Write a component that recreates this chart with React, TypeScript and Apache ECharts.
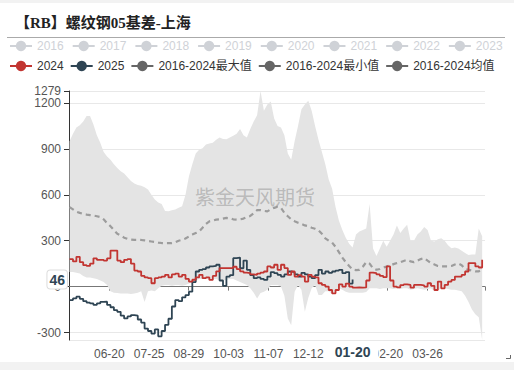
import React, { useEffect, useRef } from 'react';
import * as echarts from 'echarts';

// ---- categories: calendar days 05-16 .. 05-15 (leap year span) ----
const DAY_COUNT = 366;
const categories: string[] = [];
for (let i = 0; i < DAY_COUNT; i++) {
  const d = new Date(2023, 4, 16 + i);
  categories.push(String(d.getMonth() + 1).padStart(2, '0') + '-' + String(d.getDate()).padStart(2, '0'));
}

// values sampled every 3rd day (index = i * STEP)
const STEP = 3;

const hiddenYears = ['2016', '2017', '2018', '2019', '2020', '2021', '2022', '2023'];
const shownNames = ['2024', '2025', '2016-2024最大值', '2016-2024最小值', '2016-2024均值'];

const maxVals = [
  950, 1000, 1040, 1055, 1080, 1115, 1115, 1060, 990, 940,
  880, 850, 830, 800, 775, 755, 740, 715, 690, 675,
  665, 660, 650, 635, 600, 570, 550, 540, 495, 492,
  500, 505, 515, 525, 600, 720, 800, 870, 895, 905,
  930, 935, 940, 960, 975, 965, 964, 975, 986, 1000,
  1030, 990, 975, 1030, 1080, 1120, 1279, 1150, 1190, 1210,
  1100, 1050, 1040, 990, 870, 830, 950, 1050, 1160, 1190,
  1216, 1150, 1050, 960, 880, 800, 700, 640, 520, 430,
  370, 320, 280, 255, 340, 360, 370, 380, 540, 250,
  200, 250, 300, 260, 300, 340, 400, 350, 380, 405,
  300, 300, 340, 360, 390, 370, 300, 295, 310, 317,
  300, 270, 251, 255, 250, 235, 220, 207, 210, 210,
  380, 330,
];

const minVals = [
  95, 95, 90, 85, 70, 60, 60, 55, 50, 40,
  30, 10, -30, -40, -42, -45, -45, -45, -48, -45,
  -40, -30, -100, -30, -25, -30, -10, 5, 10, 10,
  5, 10, 10, 5, 10, 20, 30, 40, 50, 50,
  55, 45, 50, 50, 40, 40, 45, 50, 50, 40,
  30, 20, 10, -10, -40, -77, -42, -33, -20, 11,
  11, 11, 0, -60, -208, -252, -33, 11, -20, -165,
  -75, -10, 11, -55, -55, -30, -30, -50, -25, -10,
  -20, -33, -40, -40, -40, -40, -40, -35, -10, -10,
  -10, -15, -10, -10, -10, -15, -10, -15, -10, -10,
  -20, -15, -10, -15, -20, -15, -10, -30, -20, -15,
  -10, -15, -20, -20, -25, -30, -60, -100, -150, -180,
  -200, -349,
];

const meanVals = [
  520, 505, 490, 482, 475, 471, 468, 465, 460, 455,
  440, 415, 395, 370, 345, 335, 320, 312, 308, 306,
  306, 305, 302, 298, 295, 292, 288, 285, 284, 284,
  285, 290, 300, 306, 315, 328, 340, 350, 360, 385,
  410, 427, 432, 438, 440, 445, 449, 447, 440, 438,
  440, 445, 455, 462, 480, 500, 500, 495, 492, 505,
  515, 522, 515, 482, 460, 440, 428, 418, 410, 400,
  395, 385, 378, 368, 345, 315, 300, 288, 260, 225,
  190, 160, 135, 112, 108, 110, 130, 160, 150, 120,
  110, 115, 125, 132, 138, 147, 154, 160, 168, 175,
  165, 160, 170, 180, 187, 170, 154, 145, 135, 132,
  132, 132, 135, 145, 152, 140, 115, 110, 105, 100,
  100, 108,
];

const v2024 = [
  180, 165, 195, 160, 140, 135, 150, 185, 175, 175,
  170, 185, 236, 236, 170, 160, 175, 180, 150, 105,
  99, 70, 60, 55, 22, 55, 60, 66, 77, 60,
  80, 85, 66, 77, 50, 33, 45, 60, 77, 55,
  60, 44, 70, 100, 121, 121, 121, 121, 130, 115,
  100, 92, 88, 80, 77, 85, 92, 99, 132, 125,
  143, 110, 143, 121, 77, 99, 66, 75, 66, 33,
  77, 66, 60, 22, 11, 0, -22, -44, -22, 15,
  0, 20, 0, -7, -5, -7, -5, 40, 92, 88,
  80, 70, 62, 132, 40, 0, -5, 10, 15, 11,
  -7, 11, 11, 8, 0, 22, 5, -22, 33, -11,
  11, 33, 44, 66, 66, 77, 99, 154, 154, 132,
  125, 175,
];

const v2025 = [
  -88, -77, -66, -80, -95, -105, -110, -120, -110, -100,
  -99, -120, -135, -154, -165, -190, -208, -195, -186, -190,
  -215, -235, -274, -290, -307, -280, -325, -290, -250, -210,
  -130, -88, -95, -70, -55, -33, 30, 99, 110, 115,
  125, 132, 135, 143, 40, 5, 66, 75, 186, 190,
  120, 170, 110, 75, 55, 60, 50, 44, 66, 95,
  88, 77, 66, 80, 99, 95, 80, 66, 90, 80,
  66, 55, 75, 110, 85, 99, 90, 99, 105, 110,
  88, 95, 20, 46,
];

const pointerDay = '01-20';
const pointerValue = 46;

const FONT = "'Liberation Sans', 'Noto Sans CJK SC', sans-serif";

const pairs = (vals: number[]) => vals.map((v, i) => [i * STEP, v]);

export default function App() {
  const ref = useRef<HTMLDivElement>(null);

  useEffect(() => {
    document.body.style.margin = '0';
    document.body.style.background = '#f2f2f2';
    if (!ref.current) return;
    const chart = echarts.init(ref.current, null, { renderer: 'svg' });

    const labelInt = (i: number) => i > 0 && i % 35 === 0 && i <= 315;
    const lineBase = { type: 'line', showSymbol: false, symbol: 'circle', symbolSize: 6, xAxisIndex: 0, yAxisIndex: 0 };
    const bandDiff = maxVals.map((v, i) => [i * STEP, v - minVals[i]]);
    const gray = { itemStyle: { color: '#666' }, lineStyle: { color: '#666', opacity: 1, type: 'solid', width: 2 } };

    const selected: Record<string, boolean> = {};
    hiddenYears.forEach((y) => (selected[y] = false));

    const legendBase = {
      left: 9,
      padding: 0,
      itemWidth: 22,
      itemHeight: 13,
      itemGap: 8,
      textStyle: { fontSize: 12, color: '#333', fontFamily: FONT },
      selected,
    };

    chart.setOption({
      animation: false,
      title: {
        text: '【RB】螺纹钢05基差-上海',
        left: 15,
        top: 12,
        padding: 0,
        textStyle: { fontSize: 15, fontWeight: 'bold', color: '#222', fontFamily: "'Liberation Serif', 'Noto Sans CJK SC', serif" },
      },
      legend: [
        { ...legendBase, top: 37, data: hiddenYears },
        {
          ...legendBase,
          top: 57,
          itemGap: 6,
          data: [
            shownNames[0],
            shownNames[1],
            { name: shownNames[2], ...gray },
            { name: shownNames[3], ...gray },
            { name: shownNames[4], ...gray },
          ],
        },
      ],
      grid: { left: 69, right: 29, top: 88, bottom: 22 },
      xAxis: [
        {
          type: 'category',
          data: categories,
          position: 'bottom',
          axisLine: { onZero: true, lineStyle: { color: '#777' } },
          axisTick: { show: true, interval: labelInt, length: 4, lineStyle: { color: '#777' } },
          axisLabel: { show: false },
          splitLine: { show: false },
        },
        {
          type: 'category',
          data: categories,
          position: 'bottom',
          axisLine: { show: false, onZero: false },
          axisTick: { show: false },
          axisLabel: { show: true, interval: labelInt, color: '#555', fontSize: 12, fontFamily: FONT },
          splitLine: { show: false },
          axisPointer: {
            show: true,
            type: 'line',
            status: 'show',
            value: categories.indexOf(pointerDay),
            triggerTooltip: false,
            lineStyle: { opacity: 0, width: 0 },
            label: {
              show: true,
              backgroundColor: '#fff',
              color: '#2f4554',
              fontWeight: 'bold',
              fontSize: 14,
              fontFamily: FONT,
              padding: [3, 8],
              margin: 2,
              shadowBlur: 0,
            },
          },
        },
      ],
      yAxis: {
        type: 'value',
        min: -349,
        max: 1279,
        axisLine: { show: true, lineStyle: { color: '#333' } },
        axisTick: { show: true, lineStyle: { color: '#333' } },
        axisLabel: {
          color: '#555',
          fontSize: 12,
          fontFamily: FONT,
          showMinLabel: false,
          showMaxLabel: true,
          formatter: (v: number) => String(v),
        },
        splitLine: { lineStyle: { color: '#e8e8e8' } },
        axisPointer: {
          show: true,
          type: 'line',
          status: 'show',
          value: pointerValue,
          snap: false,
          triggerTooltip: false,
          lineStyle: { opacity: 0, width: 0 },
          label: {
            show: true,
            formatter: String(pointerValue),
            backgroundColor: '#fff',
            color: '#2f4554',
            fontWeight: 'bold',
            fontSize: 14,
            fontFamily: FONT,
            padding: [2, 2],
            borderColor: '#ddd',
            borderWidth: 1,
            margin: 2,
            shadowBlur: 0,
          },
        },
      },
      series: [
        ...hiddenYears.map((y) => ({ ...lineBase, name: y, data: [] })),
        {
          ...lineBase,
          name: shownNames[0],
          data: pairs(v2024),
          step: 'end',
          lineStyle: { width: 1.8, color: '#c23531' },
          itemStyle: { color: '#c23531' },
          z: 5,
        },
        {
          ...lineBase,
          name: shownNames[1],
          data: pairs(v2025),
          step: 'end',
          lineStyle: { width: 1.8, color: '#2f4554' },
          itemStyle: { color: '#2f4554' },
          z: 4,
        },
        {
          ...lineBase,
          name: shownNames[3],
          data: pairs(minVals),
          stack: 'band',
          stackStrategy: 'all',
          lineStyle: { opacity: 0, color: '#666' },
          itemStyle: { color: '#666' },
          z: 1,
        },
        {
          ...lineBase,
          name: shownNames[2],
          data: bandDiff,
          stack: 'band',
          stackStrategy: 'all',
          lineStyle: { opacity: 0, color: '#666' },
          areaStyle: { color: '#e4e4e4', opacity: 1 },
          itemStyle: { color: '#666' },
          z: 1,
        },
        {
          ...lineBase,
          name: shownNames[4],
          data: pairs(meanVals),
          lineStyle: { type: [5, 4], width: 2.2, color: '#9c9c9c' },
          itemStyle: { color: '#666' },
          z: 3,
        },
      ],
      graphic: [
        { type: 'line', silent: true, shape: { x1: 7, y1: 34.5, x2: 505, y2: 34.5 }, style: { stroke: '#aaa', lineWidth: 1 } },
        {
          type: 'text',
          silent: true,
          left: 195,
          top: 183,
          z: 10,
          style: { text: '紫金天风期货', fontSize: 20, fill: 'rgba(120,120,120,0.4)', fontFamily: "'Noto Sans CJK SC', sans-serif" },
        },
        {
          type: 'polyline',
          silent: true,
          shape: { points: [[506, 355.5], [510.5, 355.5], [510.5, 352]] },
          style: { stroke: '#666', lineWidth: 1, fill: 'none' },
        },
      ],
    });

    return () => chart.dispose();
  }, []);

  return (
    <div style={{ width: 514, height: 370, background: '#f2f2f2', paddingTop: 3, boxSizing: 'border-box' }}>
      <div ref={ref} style={{ width: 514, height: 359, background: '#fff' }} />
    </div>
  );
}
